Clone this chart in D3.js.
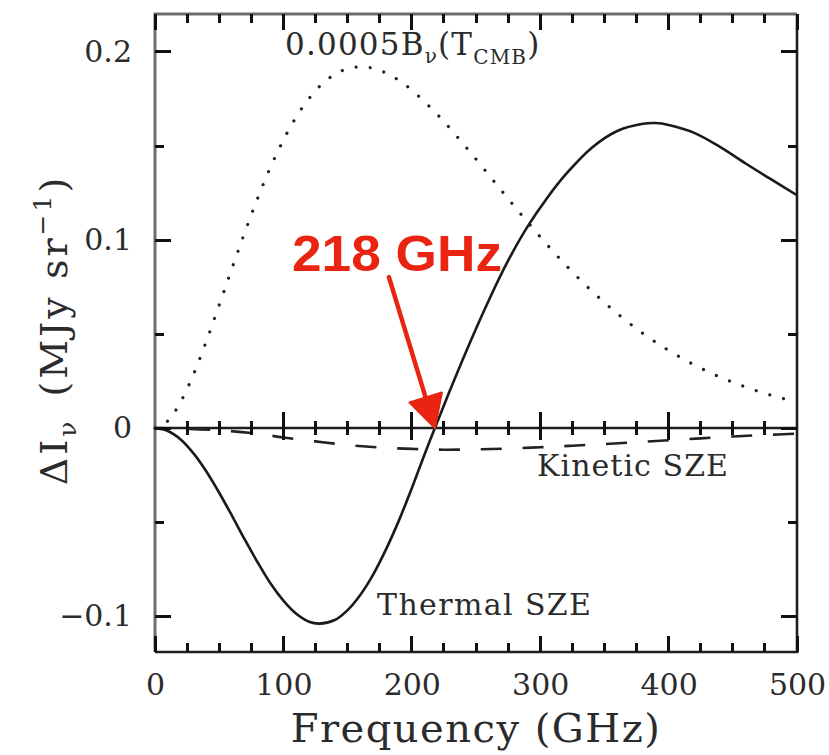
<!DOCTYPE html>
<html>
<head>
<meta charset="utf-8">
<script src="https://cdn.jsdelivr.net/npm/d3@7"></script>
<style>
  html, body { margin: 0; padding: 0; background: #fff; }
  svg { display: block; }
</style>
</head>
<body>
<script>
// Spectral distortion of the CMB by the Sunyaev-Zel'dovich effect (MJy sr^-1 vs GHz)

// Scaled CMB blackbody, 0.0005 B_nu(T_CMB)
const planckFreq   = [0, 10, 20, 30, 40, 50, 60, 70, 80, 90, 100, 110, 120, 130, 140, 150, 160, 170, 180, 190, 200,
                      220, 240, 260, 280, 300, 320, 340, 360, 380, 400, 420, 440, 460, 480, 500];
const planckValues = [0, 0.0038, 0.0140, 0.0286, 0.0462, 0.0654, 0.0850, 0.1042, 0.1223, 0.1388, 0.1532, 0.1655,
                      0.1753, 0.1829, 0.1881, 0.1911, 0.1921, 0.1913, 0.1888, 0.1849, 0.1797,
                      0.1667, 0.1512, 0.1346, 0.1178, 0.1017, 0.0866, 0.0730, 0.0609, 0.0503, 0.0413,
                      0.0336, 0.0271, 0.0218, 0.0174, 0.0138];

// Thermal SZE
const thermalFreq   = [0, 10, 20, 30, 40, 50, 60, 70, 80, 90, 100, 110, 120, 128, 140, 150, 160, 170, 180, 190,
                       200, 210, 218, 230, 245, 260, 275, 290, 305, 320, 340, 360, 380, 390, 400, 420, 440,
                       460, 480, 500];
const thermalValues = [0, -0.0016, -0.0061, -0.0135, -0.0231, -0.0344, -0.0467, -0.0594, -0.0715, -0.0827,
                       -0.0918, -0.0988, -0.1030, -0.1040, -0.1021, -0.0968, -0.0886, -0.0778, -0.0644,
                       -0.0491, -0.0320, -0.0139, 0, 0.0205, 0.0450, 0.0680, 0.0890, 0.1070, 0.1220,
                       0.1350, 0.1490, 0.1580, 0.1618, 0.1622, 0.1612, 0.1570, 0.1495, 0.1407, 0.1322,
                       0.1238];

// Kinetic SZE
const kineticFreq   = [0, 25, 50, 75, 100, 125, 150, 175, 200, 225, 250, 275, 300, 325, 350, 375, 400, 425, 450, 475, 500];
const kineticValues = [0, -0.0004, -0.0012, -0.0026, -0.0050, -0.0071, -0.0090, -0.0103, -0.0111, -0.0115,
                       -0.0113, -0.0109, -0.0102, -0.0094, -0.0085, -0.0075, -0.0065, -0.0055, -0.0045,
                       -0.0037, -0.0030];

// Null of the thermal effect
const nullFrequency = 218;
const nullLabel = "218 GHz";

// Axes
const xMajorTicks = [0, 100, 200, 300, 400, 500];
const xMinorTicks = [25, 50, 75, 125, 150, 175, 225, 250, 275, 325, 350, 375, 425, 450, 475];
const xTickLabels = ["0", "100", "200", "300", "400", "500"];
const yMajorTicks = [-0.1, 0, 0.1, 0.2];
const yMinorTicks = [-0.05, 0.05, 0.15];
const yTickLabels = ["\u22120.1", "0", "0.1", "0.2"];

const W = 829, H = 755;
const plotL = 155, plotR = 797, plotT = 14, plotB = 652;
const serif = "'DejaVu Serif', serif";
const ink = "#1e1e1e";
const textInk = "#2b2b2b";

const svg = d3.select("body").append("svg").attr("width", W).attr("height", H);

const x = d3.scaleLinear().domain([0, 500]).range([plotL, plotR]);
const y = d3.scaleLinear().domain([-0.1191, 0.2202]).range([plotB, plotT]);
const zeroY = y(0);

// Tick labels from the axes
function styleLabels(g) {
  g.select(".domain").remove();
  g.selectAll(".tick line").remove();
  g.selectAll(".tick text").attr("fill", textInk).style("font-family", serif).style("font-size", "30px");
}
svg.append("g").attr("transform", `translate(0,${plotB})`)
  .call(d3.axisBottom(x).tickValues(xMajorTicks).tickSize(0).tickPadding(22)
    .tickFormat((d, i) => xTickLabels[i]))
  .call(styleLabels);
svg.append("g").attr("transform", `translate(${plotL},0)`)
  .call(d3.axisLeft(y).tickValues(yMajorTicks).tickSize(0).tickPadding(23)
    .tickFormat((d, i) => yTickLabels[i]))
  .call(styleLabels);

// Zero line
svg.append("path").attr("d", `M${x(0)},${zeroY}H${x(500)}`)
  .attr("fill", "none").attr("stroke", ink).attr("stroke-width", 2.4);

// Plot frame
svg.append("path").attr("d", `M${plotL},${plotB}V${plotT}H${plotR}`)
  .attr("fill", "none").attr("stroke", "#6e6e6e").attr("stroke-width", 3);
svg.append("path").attr("d", `M${plotL},${plotB}H${plotR}V${plotT}`)
  .attr("fill", "none").attr("stroke", ink).attr("stroke-width", 2.6);

// Curves
const planck  = planckFreq.map((f, i) => [f, planckValues[i]]);
const thermal = thermalFreq.map((f, i) => [f, thermalValues[i]]);
const kinetic = kineticFreq.map((f, i) => [f, kineticValues[i]]);
const curve = d3.line().x(d => x(d[0])).y(d => y(d[1])).curve(d3.curveCatmullRom.alpha(0.5));

svg.append("path").datum(planck).attr("d", curve)
  .attr("fill", "none").attr("stroke", "#222").attr("stroke-width", 3.2)
  .attr("stroke-linecap", "round").attr("stroke-dasharray", "0.01 14.2");
svg.append("path").datum(kinetic).attr("d", curve)
  .attr("fill", "none").attr("stroke", "#222").attr("stroke-width", 2.6)
  .attr("stroke-dasharray", "21 20.8").attr("stroke-dashoffset", 7.6);
svg.append("path").datum(thermal).attr("d", curve)
  .attr("fill", "none").attr("stroke", "#1a1a1a").attr("stroke-width", 2.6);

// Curve labels
const labels = svg.append("g").attr("fill", textInk).style("font-family", serif).style("font-size", "31px");
const bLabel = labels.append("text").attr("x", 285).attr("y", 55).style("letter-spacing", "1.2px");
bLabel.append("tspan").text("0.0005B");
bLabel.append("tspan").attr("dy", 8).style("font-size", "20px").text("\u03bd");
bLabel.append("tspan").attr("dy", -8).text("(T");
bLabel.append("tspan").attr("dy", 9).style("font-size", "20px").text("CMB");
bLabel.append("tspan").attr("dy", -9).text(")");

labels.append("text").attr("x", 537).attr("y", 476).style("font-size", "30px")
  .attr("textLength", 191).attr("lengthAdjust", "spacing").text("Kinetic SZE");
labels.append("text").attr("x", 377).attr("y", 615).style("font-size", "30px")
  .attr("textLength", 214).attr("lengthAdjust", "spacing").text("Thermal SZE");

// Axis titles
svg.append("text").attr("x", (plotL + plotR) / 2).attr("y", 742).attr("text-anchor", "middle")
  .attr("fill", textInk).style("font-family", serif).style("font-size", "40px")
  .style("letter-spacing", "1.5px").text("Frequency (GHz)");

const yTitle = svg.append("text").attr("transform", "translate(67,330) rotate(-90)")
  .attr("text-anchor", "middle").attr("fill", textInk)
  .style("font-family", serif).style("font-size", "38px").style("letter-spacing", "3px");
yTitle.append("tspan").text("\u0394I");
yTitle.append("tspan").attr("dy", 9).style("font-size", "25px").text("\u03bd");
yTitle.append("tspan").attr("dy", -9).attr("dx", 22).text("(MJy sr");
yTitle.append("tspan").attr("dy", -16).style("font-size", "25px").text("\u22121");
yTitle.append("tspan").attr("dy", 16).text(")");

// Annotation: thermal null, arrow tip on the zero crossing
const red = "#ea2412";
const tipX = x(nullFrequency), tipY = zeroY;
const tail = [tipX - 46, tipY - 151];
const len = Math.hypot(tipX - tail[0], tipY - tail[1]);
const ux = (tipX - tail[0]) / len, uy = (tipY - tail[1]) / len;
const headLen = 32, headHalf = 17;
const bx = tipX - headLen * ux, by = tipY - headLen * uy;
svg.append("path").attr("d", `M${tail[0]},${tail[1]}L${bx},${by}`)
  .attr("fill", "none").attr("stroke", red).attr("stroke-width", 4.5).attr("stroke-linecap", "round");
svg.append("path")
  .attr("d", `M${tipX},${tipY}L${bx + headHalf * uy},${by - headHalf * ux}L${bx - headHalf * uy},${by + headHalf * ux}Z`)
  .attr("fill", red).attr("stroke", red).attr("stroke-width", 2).attr("stroke-linejoin", "round");

svg.append("text").attr("x", 292).attr("y", 271)
  .attr("fill", red).style("font-family", "'Liberation Sans', Arial, sans-serif")
  .style("font-weight", "bold").style("font-size", "50px")
  .attr("textLength", 210).attr("lengthAdjust", "spacingAndGlyphs").text(nullLabel);

// Inward tick marks on all four sides, and ticks crossing the zero line (drawn last, on top)
const tickLayer = svg.append("g").attr("shape-rendering", "crispEdges");
function tick(x1, y1, x2, y2) {
  tickLayer.append("line").attr("x1", x1).attr("y1", y1).attr("x2", x2).attr("y2", y2)
    .attr("stroke", "#111").attr("stroke-width", 3);
}
for (const v of xMajorTicks) {
  tick(x(v), plotB, x(v), plotB - 16);
  tick(x(v), plotT, x(v), plotT + 16);
  if (v > 0 && v < 500) tick(x(v), zeroY - 16, x(v), zeroY + 12);
}
for (const v of xMinorTicks) {
  tick(x(v), plotB, x(v), plotB - 9);
  tick(x(v), plotT, x(v), plotT + 9);
  tick(x(v), zeroY - 7, x(v), zeroY + 7);
}
for (const v of yMajorTicks) {
  tick(plotL, y(v), plotL + 16, y(v));
  tick(plotR, y(v), plotR - 16, y(v));
}
for (const v of yMinorTicks) {
  tick(plotL, y(v), plotL + 9, y(v));
  tick(plotR, y(v), plotR - 9, y(v));
}
</script>
</body>
</html>
